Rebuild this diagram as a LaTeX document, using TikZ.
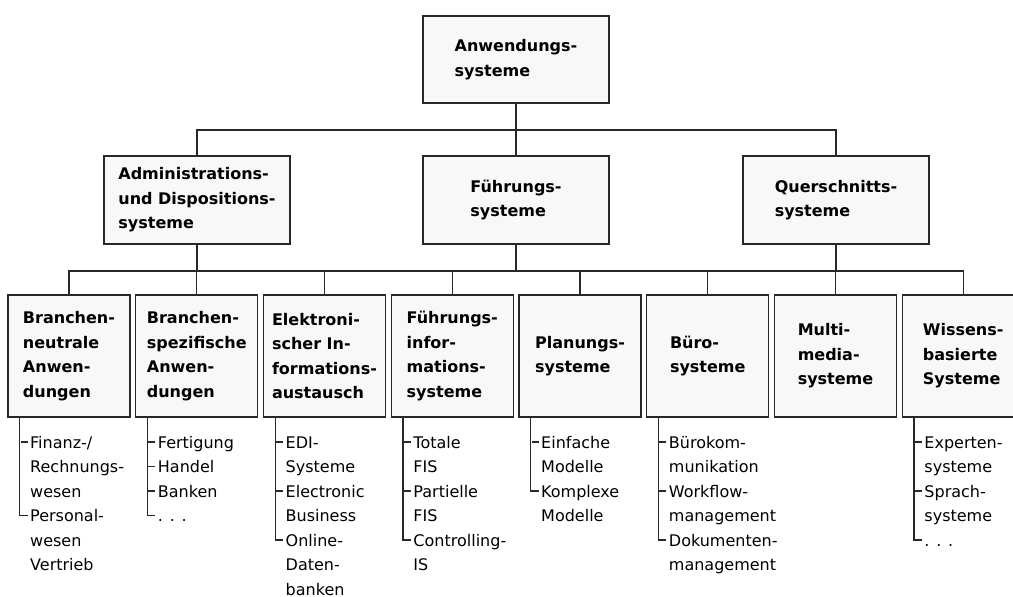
\documentclass[tikz,border=0pt]{standalone}
\usepackage{fontspec}
\setmainfont{DejaVu Sans}
\usetikzlibrary{calc}

\definecolor{boxfill}{RGB}{247,248,247}
\definecolor{ink}{RGB}{40,40,40}

% item text: lines stacked with the first baseline as reference point
\newcommand{\itemlines}[1]{\begin{tabular}[t]{@{}l@{}}#1\end{tabular}}

\tikzset{
  catbox/.style={draw=ink, line width=1.4pt, fill=boxfill, align=left,
    inner sep=0pt, font=\fontsize{16}{24.5}\selectfont\bfseries},
  topbox/.style={catbox, minimum width=186pt, minimum height=87pt},
  midbox/.style={catbox, minimum width=186pt, minimum height=88pt},
  subbox/.style={catbox, minimum width=122pt, minimum height=122pt},
  conn/.style={draw=ink, line width=1.3pt},
  listitem/.style={anchor=base west, inner sep=0pt, xshift=1.5pt,
    font=\fontsize{16}{24.5}\selectfont},
}

\begin{document}
\begin{tikzpicture}[x=1pt, y=-1pt]
\useasboundingbox (0,0) rectangle (1013,597);
\clip (0,0) rectangle (1013,597);

% hierarchy boxes
\node[topbox] (top) at (516,59.5) {Anwendungs-\\systeme};

\node[midbox] (m1) at (197,200) {Administrations-\\und Dispositions-\\systeme};
\node[midbox] (m2) at (516,200) {Führungs-\\systeme};
\node[midbox] (m3) at (836,200) {Querschnitts-\\systeme};

\node[subbox] (b1) at (69,356)     {Branchen-\\neutrale\\Anwen-\\dungen};
\node[subbox] (b2) at (196.75,356) {Branchen-\\spezifische\\Anwen-\\dungen};
\node[subbox] (b3) at (324.5,356)  {Elektroni-\\scher In-\\formations-\\austausch};
\node[subbox] (b4) at (452.25,356) {Führungs-\\infor-\\mations-\\systeme};
\node[subbox] (b5) at (580,356)    {Planungs-\\systeme};
\node[subbox] (b6) at (707.75,356) {Büro-\\systeme};
\node[subbox] (b7) at (835.5,356)  {Multi-\\media-\\systeme};
\node[subbox] (b8) at (963.25,356) {Wissens-\\basierte\\Systeme};

% bus lines
\coordinate (bus1) at (516,130);
\coordinate (bus2) at (516,271);

\draw[conn] (top.south) -- (bus1);
\draw[conn] (m1.north) |- (bus1) -| (m3.north);
\draw[conn] (m2.north) -- (m2.north |- bus1);

\draw[conn] (m1.south) -- (m1.south |- bus2);
\draw[conn] (m2.south) -- (bus2);
\draw[conn] (m3.south) -- (m3.south |- bus2);
\draw[conn] (b1.north) |- (bus2) -| (b8.north);
\foreach \b in {b2,b3,b4,b5,b6,b7}
  \draw[conn] (\b.north) -- (\b.north |- bus2);

% detail lists below the boxes
\node[listitem] (b1i1) at (28.5,448)     {\itemlines{Finanz-/\\Rechnungs-\\wesen}};
\node[listitem] (b1i2) at (28.5,521.5)   {\itemlines{Personal-\\wesen\\Vertrieb}};

\node[listitem] (b2i1) at (156.25,448)   {\itemlines{Fertigung}};
\node[listitem] (b2i2) at (156.25,472.5) {\itemlines{Handel}};
\node[listitem] (b2i3) at (156.25,497)   {\itemlines{Banken}};
\node[listitem] (b2i4) at (156.25,521.5) {\itemlines{. . .}};

\node[listitem] (b3i1) at (284,448)      {\itemlines{EDI-\\Systeme}};
\node[listitem] (b3i2) at (284,497)      {\itemlines{Electronic\\Business}};
\node[listitem] (b3i3) at (284,546)      {\itemlines{Online-\\Daten-\\banken}};

\node[listitem] (b4i1) at (411.75,448)   {\itemlines{Totale\\FIS}};
\node[listitem] (b4i2) at (411.75,497)   {\itemlines{Partielle\\FIS}};
\node[listitem] (b4i3) at (411.75,546)   {\itemlines{Controlling-\\IS}};

\node[listitem] (b5i1) at (539.5,448)    {\itemlines{Einfache\\Modelle}};
\node[listitem] (b5i2) at (539.5,497)    {\itemlines{Komplexe\\Modelle}};

\node[listitem] (b6i1) at (667.25,448)   {\itemlines{Bürokom-\\munikation}};
\node[listitem] (b6i2) at (667.25,497)   {\itemlines{Workflow-\\management}};
\node[listitem] (b6i3) at (667.25,546)   {\itemlines{Dokumenten-\\management}};

\node[listitem] (b8i1) at (922.75,448)   {\itemlines{Experten-\\systeme}};
\node[listitem] (b8i2) at (922.75,497)   {\itemlines{Sprach-\\systeme}};
\node[listitem] (b8i3) at (922.75,546)   {\itemlines{. . .}};

% list spines ending in a corner at the last item
\foreach \b/\last in {b1/b1i2, b2/b2i4, b3/b3i3, b4/b4i3, b5/b5i2, b6/b6i3, b8/b8i3}
  \draw[conn] ([xshift=12.5pt]\b.south west) |- ([xshift=-2.5pt,yshift=6pt]\last.base west);

% short ticks for the other items
\foreach \i in {b1i1, b2i1, b2i2, b2i3, b3i1, b3i2, b4i1, b4i2, b5i1, b6i1, b6i2, b8i1, b8i2}
  \draw[conn] ([xshift=-2.5pt,yshift=6pt]\i.base west) -- ++(-7,0);

\end{tikzpicture}
\end{document}
